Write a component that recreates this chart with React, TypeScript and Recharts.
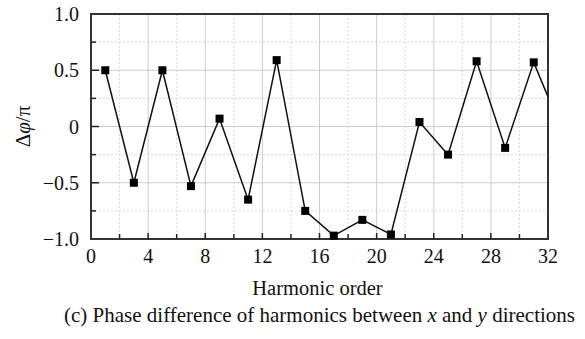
import { CartesianGrid, Label, Line, LineChart, ReferenceArea, XAxis, YAxis } from 'recharts';

// harmonic orders (odd), last one lies past the axis end and is clipped
const harmonicOrder = [1, 3, 5, 7, 9, 11, 13, 15, 17, 19, 21, 23, 25, 27, 29, 31, 33];
const phaseDiff = [
  0.5, -0.5, 0.5, -0.53, 0.07, -0.65, 0.59, -0.75, -0.97, -0.83, -0.96, 0.04, -0.25, 0.58, -0.19,
  0.57, -0.04
];

const xTicks = [0, 2, 4, 6, 8, 10, 12, 14, 16, 18, 20, 22, 24, 26, 28, 30, 32];
const xMajor = [4, 8, 12, 16, 20, 24, 28];
const xMinor = [2, 6, 10, 14, 18, 22, 26, 30];
const yTicks = [-1, -0.75, -0.5, -0.25, 0, 0.25, 0.5, 0.75, 1];
const yMajor = [-0.5, 0, 0.5];
const yMinor = [-0.75, -0.25, 0.25, 0.75];

const data = harmonicOrder.map((h, i) => ({ h, dp: phaseDiff[i] }));

const serif = "'Liberation Serif', 'Times New Roman', serif";

const fmtY = (v: number) => {
  if (v === 0) return '0';
  const s = Math.abs(v).toFixed(1);
  return v < 0 ? '\u2212' + s : s;
};

const XTick = (props: any) => {
  const { x, y, payload } = props;
  const v = payload.value;
  const major = v % 4 === 0;
  return (
    <g>
      {v !== 0 && v !== 32 && (
        <line x1={x} x2={x} y1={y} y2={y - (major ? 6 : 5)} stroke='#222' strokeWidth={1.5} />
      )}
      {major && (
        <text x={x} y={y + 24} textAnchor='middle' fontFamily={serif} fontSize={20} fill='#111'>
          {v}
        </text>
      )}
    </g>
  );
};

const YTick = (props: any) => {
  const { x, y, payload } = props;
  const v = payload.value;
  const major = Math.abs(v * 2 - Math.round(v * 2)) < 1e-6;
  return (
    <g>
      {Math.abs(v) !== 1 && (
        <line x1={x} x2={x + (major ? 8 : 5)} y1={y} y2={y} stroke='#222' strokeWidth={1.5} />
      )}
      {major && (
        <text x={x - 12} y={y + 7} textAnchor='end' fontFamily={serif} fontSize={20} fill='#111'>
          {fmtY(v)}
        </text>
      )}
    </g>
  );
};

const SquareDot = (props: any) => {
  const { cx, cy, index } = props;
  if (cx == null || cy == null) return <g key={index} />;
  return <rect key={index} x={cx - 4} y={cy - 4} width={8} height={8} fill='#000' />;
};

const XTitle = (props: any) => {
  const { viewBox } = props;
  const cx = viewBox.x + viewBox.width / 2;
  return (
    <g fill='#111'>
      <text x={cx - 2} y={viewBox.y + 56} textAnchor='middle' fontFamily={serif} fontSize={20.5}>
        Harmonic order
      </text>
      <text x={cx} y={viewBox.y + 83} textAnchor='middle' fontFamily={serif} fontSize={21}>
        (c) Phase difference of harmonics between <tspan fontStyle='italic'>x</tspan> and{' '}
        <tspan fontStyle='italic'>y</tspan> directions
      </text>
    </g>
  );
};

const YTitle = (props: any) => {
  const { viewBox } = props;
  const cy = viewBox.y + viewBox.height / 2;
  return (
    <text
      x={23}
      y={cy}
      transform={`rotate(-90 23 ${cy})`}
      textAnchor='middle'
      dominantBaseline='central'
      fontFamily={serif}
      fontSize={21}
      fill='#111'>
      Δ<tspan fontStyle='italic'>φ</tspan>/π
    </text>
  );
};

export default function App() {
  return (
    <div style={{ position: 'absolute', left: 0, top: 0, background: '#fff', fontFamily: serif }}>
      <LineChart width={585} height={339} data={data} margin={{ top: 14, right: 37, left: 0, bottom: 0 }}>
        <CartesianGrid
          horizontalValues={yMinor}
          verticalValues={xMinor}
          stroke='#d8d8d8'
          strokeDasharray='2 2'
        />
        <CartesianGrid horizontalValues={yMajor} verticalValues={xMajor} stroke='#cccccc' />
        <XAxis
          dataKey='h'
          type='number'
          domain={[0, 32]}
          ticks={xTicks}
          allowDataOverflow
          height={100}
          tickSize={0}
          tickMargin={0}
          axisLine={false}
          tick={<XTick />}
          interval={0}>
          <Label content={<XTitle />} />
        </XAxis>
        <YAxis
          type='number'
          domain={[-1, 1]}
          ticks={yTicks}
          width={91}
          tickSize={0}
          tickMargin={0}
          axisLine={false}
          tick={<YTick />}
          interval={0}>
          <Label content={<YTitle />} />
        </YAxis>
        <ReferenceArea x1={0} x2={32} y1={-1} y2={1} fill='none' stroke='#333' strokeWidth={2} />
        <Line
          type='linear'
          dataKey='dp'
          stroke='#111'
          strokeWidth={1.5}
          dot={<SquareDot />}
          activeDot={false}
          isAnimationActive={false}
        />
      </LineChart>
    </div>
  );
}
